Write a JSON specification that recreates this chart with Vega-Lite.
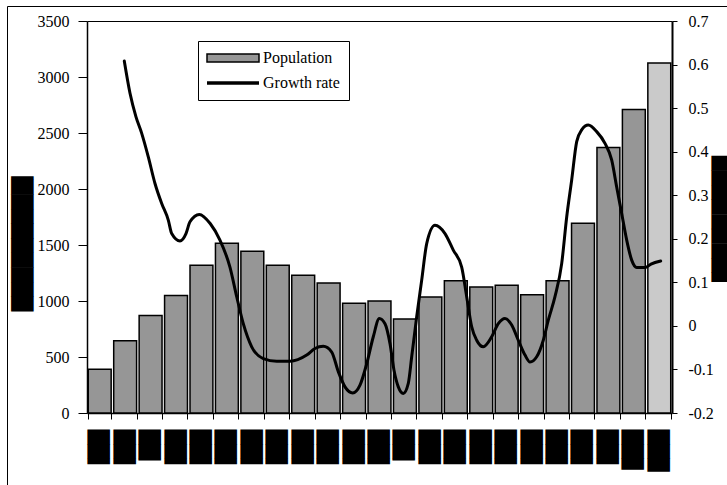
{
  "$schema": "https://vega.github.io/schema/vega-lite/v6.json",
  "width": 720,
  "height": 479,
  "autosize": {"type": "none"},
  "padding": {"left": 7, "top": 6, "right": 0, "bottom": 0},
  "background": "white",
  "config": {
    "view": {"stroke": "black", "strokeWidth": 1},
    "axis": {
      "grid": false,
      "domainColor": "black",
      "tickColor": "black",
      "labelColor": "black",
      "labelFont": "Liberation Serif",
      "labelFontSize": 16,
      "titleColor": "black"
    }
  },
  "datasets": {
    "population": [
      {"period": 1, "population": 390},
      {"period": 2, "population": 645},
      {"period": 3, "population": 870},
      {"period": 4, "population": 1050},
      {"period": 5, "population": 1320},
      {"period": 6, "population": 1515},
      {"period": 7, "population": 1445},
      {"period": 8, "population": 1320},
      {"period": 9, "population": 1230},
      {"period": 10, "population": 1160},
      {"period": 11, "population": 980},
      {"period": 12, "population": 1000},
      {"period": 13, "population": 840},
      {"period": 14, "population": 1035},
      {"period": 15, "population": 1180},
      {"period": 16, "population": 1125},
      {"period": 17, "population": 1140},
      {"period": 18, "population": 1055},
      {"period": 19, "population": 1180},
      {"period": 20, "population": 1695},
      {"period": 21, "population": 2370},
      {"period": 22, "population": 2710},
      {"period": 23, "population": 3125}
    ],
    "growth": [
      {"t": 1.466, "rate": 0.608},
      {"t": 1.691, "rate": 0.534},
      {"t": 1.926, "rate": 0.480},
      {"t": 2.151, "rate": 0.442},
      {"t": 2.410, "rate": 0.388},
      {"t": 2.673, "rate": 0.327},
      {"t": 2.937, "rate": 0.281},
      {"t": 3.196, "rate": 0.243},
      {"t": 3.330, "rate": 0.212},
      {"t": 3.656, "rate": 0.195},
      {"t": 3.892, "rate": 0.212},
      {"t": 4.049, "rate": 0.239},
      {"t": 4.415, "rate": 0.256},
      {"t": 4.843, "rate": 0.235},
      {"t": 5.227, "rate": 0.197},
      {"t": 5.620, "rate": 0.135},
      {"t": 5.886, "rate": 0.067},
      {"t": 6.145, "rate": 0.005},
      {"t": 6.475, "rate": -0.048},
      {"t": 6.931, "rate": -0.075},
      {"t": 7.458, "rate": -0.081},
      {"t": 7.981, "rate": -0.081},
      {"t": 8.638, "rate": -0.067},
      {"t": 8.964, "rate": -0.052},
      {"t": 9.290, "rate": -0.047},
      {"t": 9.621, "rate": -0.060},
      {"t": 9.880, "rate": -0.105},
      {"t": 10.144, "rate": -0.140},
      {"t": 10.446, "rate": -0.154},
      {"t": 10.733, "rate": -0.136},
      {"t": 10.997, "rate": -0.087},
      {"t": 11.256, "rate": -0.025},
      {"t": 11.492, "rate": 0.017},
      {"t": 11.716, "rate": 0.005},
      {"t": 11.913, "rate": -0.041},
      {"t": 12.070, "rate": -0.102},
      {"t": 12.239, "rate": -0.140},
      {"t": 12.436, "rate": -0.155},
      {"t": 12.632, "rate": -0.132},
      {"t": 12.766, "rate": -0.071},
      {"t": 12.962, "rate": 0.021},
      {"t": 13.159, "rate": 0.105},
      {"t": 13.356, "rate": 0.189},
      {"t": 13.682, "rate": 0.231},
      {"t": 14.075, "rate": 0.212},
      {"t": 14.401, "rate": 0.174},
      {"t": 14.731, "rate": 0.135},
      {"t": 14.928, "rate": 0.067},
      {"t": 15.125, "rate": -0.002},
      {"t": 15.321, "rate": -0.033},
      {"t": 15.581, "rate": -0.048},
      {"t": 15.911, "rate": -0.025},
      {"t": 16.171, "rate": 0.005},
      {"t": 16.434, "rate": 0.017},
      {"t": 16.698, "rate": 0.002},
      {"t": 16.957, "rate": -0.033},
      {"t": 17.220, "rate": -0.067},
      {"t": 17.417, "rate": -0.083},
      {"t": 17.680, "rate": -0.071},
      {"t": 17.940, "rate": -0.033},
      {"t": 18.136, "rate": 0.013},
      {"t": 18.399, "rate": 0.067},
      {"t": 18.663, "rate": 0.143},
      {"t": 18.860, "rate": 0.250},
      {"t": 19.056, "rate": 0.335},
      {"t": 19.253, "rate": 0.423},
      {"t": 19.449, "rate": 0.450},
      {"t": 19.709, "rate": 0.461},
      {"t": 20.039, "rate": 0.446},
      {"t": 20.365, "rate": 0.419},
      {"t": 20.628, "rate": 0.381},
      {"t": 20.825, "rate": 0.319},
      {"t": 21.022, "rate": 0.258},
      {"t": 21.219, "rate": 0.197},
      {"t": 21.415, "rate": 0.151},
      {"t": 21.612, "rate": 0.134},
      {"t": 21.938, "rate": 0.134},
      {"t": 22.174, "rate": 0.142},
      {"t": 22.555, "rate": 0.149}
    ]
  },
  "layer": [
    {
      "data": {"name": "population"},
      "mark": {"type": "bar", "stroke": "black", "strokeWidth": 1.5},
      "encoding": {
        "x": {
          "field": "period",
          "type": "ordinal",
          "scale": {"range": [80, 665], "paddingInner": 0.1, "paddingOuter": 0.05},
          "axis": {
            "orient": "bottom",
            "offset": -72,
            "title": null,
            "tickBand": "extent",
            "tickSize": 6,
            "domainWidth": 1.5,
            "labelAngle": 90,
            "labelAlign": "left",
            "labelBaseline": "middle",
            "labelFont": "DejaVu Sans",
            "labelFontSize": 19,
            "labelPadding": 10,
            "labelOffset": -2,
            "labelOverlap": false,
            "labelExpr": "['██▍','██▍','██▏','██▍','██▍','██▍','██▍','██▍','██▍','██▍','██▍','██▍','██▏','██▍','██▍','██▍','██▍','██▍','██▍','██▍','██▍','██▊','██▉'][datum.value - 1]"
          }
        },
        "y": {
          "field": "population",
          "type": "quantitative",
          "scale": {"domain": [0, 3500], "range": [407, 15], "nice": false},
          "axis": {
            "orient": "left",
            "offset": -80,
            "values": [0, 500, 1000, 1500, 2000, 2500, 3000, 3500],
            "format": "d",
            "labelFont": "Liberation Serif",
            "labelFontSize": 16,
            "tickSize": 9,
            "labelPadding": 9,
            "domainWidth": 1.5,
            "title": "█████████▎",
            "titleFont": "DejaVu Sans",
            "titleFontSize": 19,
            "titleFontWeight": "normal",
            "titleAngle": -90,
            "titleX": -65,
            "titleY": 232,
            "titleAlign": "center",
            "titleBaseline": "middle"
          }
        },
        "color": {
          "condition": {"test": "datum.period === 23", "value": "#cacaca"},
          "datum": "Population",
          "scale": {"domain": ["Population", "Growth rate"], "range": ["#969696", "#000000"]},
          "legend": {
            "title": null,
            "orient": "none",
            "legendX": 191,
            "legendY": 35,
            "direction": "vertical",
            "strokeColor": "black",
            "fillColor": "white",
            "padding": 9,
            "rowPadding": 9,
            "labelFont": "Liberation Serif",
            "labelFontSize": 16,
            "labelColor": "black",
            "symbolSize": 100,
            "symbolType": "M-5.2,-0.8H5.2V0.8H-5.2Z",
            "symbolStrokeColor": "black",
            "symbolStrokeWidth": 1.5,
            "symbolOffset": 18,
            "labelOffset": 22,
            "encode": {
              "symbols": {
                "update": {
                  "shape": {"signal": "datum.value === 'Population' ? 'M-5.2,-0.8H5.2V0.8H-5.2Z' : 'M-5.2,0H5.2'"},
                  "fill": {"signal": "datum.value === 'Population' ? '#969696' : 'transparent'"},
                  "stroke": {"value": "black"},
                  "strokeWidth": {"signal": "datum.value === 'Population' ? 1.5 : 3.5"}
                }
              }
            }
          }
        }
      }
    },
    {
      "data": {"name": "growth"},
      "mark": {"type": "line", "color": "black", "strokeWidth": 3, "interpolate": "monotone", "strokeCap": "round", "strokeJoin": "round"},
      "encoding": {
        "x": {
          "field": "t",
          "type": "quantitative",
          "scale": {"domain": [0, 23], "range": [80, 665], "nice": false, "zero": false},
          "axis": {"orient": "top", "offset": -15, "labels": false, "ticks": false, "title": null, "domainWidth": 1}
        },
        "y": {
          "field": "rate",
          "type": "quantitative",
          "scale": {"domain": [-0.2, 0.7], "range": [407, 15], "nice": false, "zero": false},
          "axis": {
            "orient": "right",
            "offset": -55,
            "values": [-0.2, -0.1, 0, 0.1, 0.2, 0.3, 0.4, 0.5, 0.6, 0.7],
            "labelExpr": "datum.value < 0 ? '-' + format(-datum.value, '.1~f') : format(datum.value, '.1~f')",
            "labelFont": "Liberation Serif",
            "labelFontSize": 16,
            "tickSize": 5,
            "labelPadding": 11,
            "domainWidth": 2,
            "title": "████████▋",
            "titleFont": "DejaVu Sans",
            "titleFontSize": 19,
            "titleFontWeight": "normal",
            "titleAngle": 90,
            "titleX": 49,
            "titleY": 215,
            "titleAlign": "center",
            "titleBaseline": "middle"
          }
        }
      }
    }
  ],
  "resolve": {
    "scale": {"x": "independent", "y": "independent"},
    "axis": {"x": "independent", "y": "independent"}
  }
}
